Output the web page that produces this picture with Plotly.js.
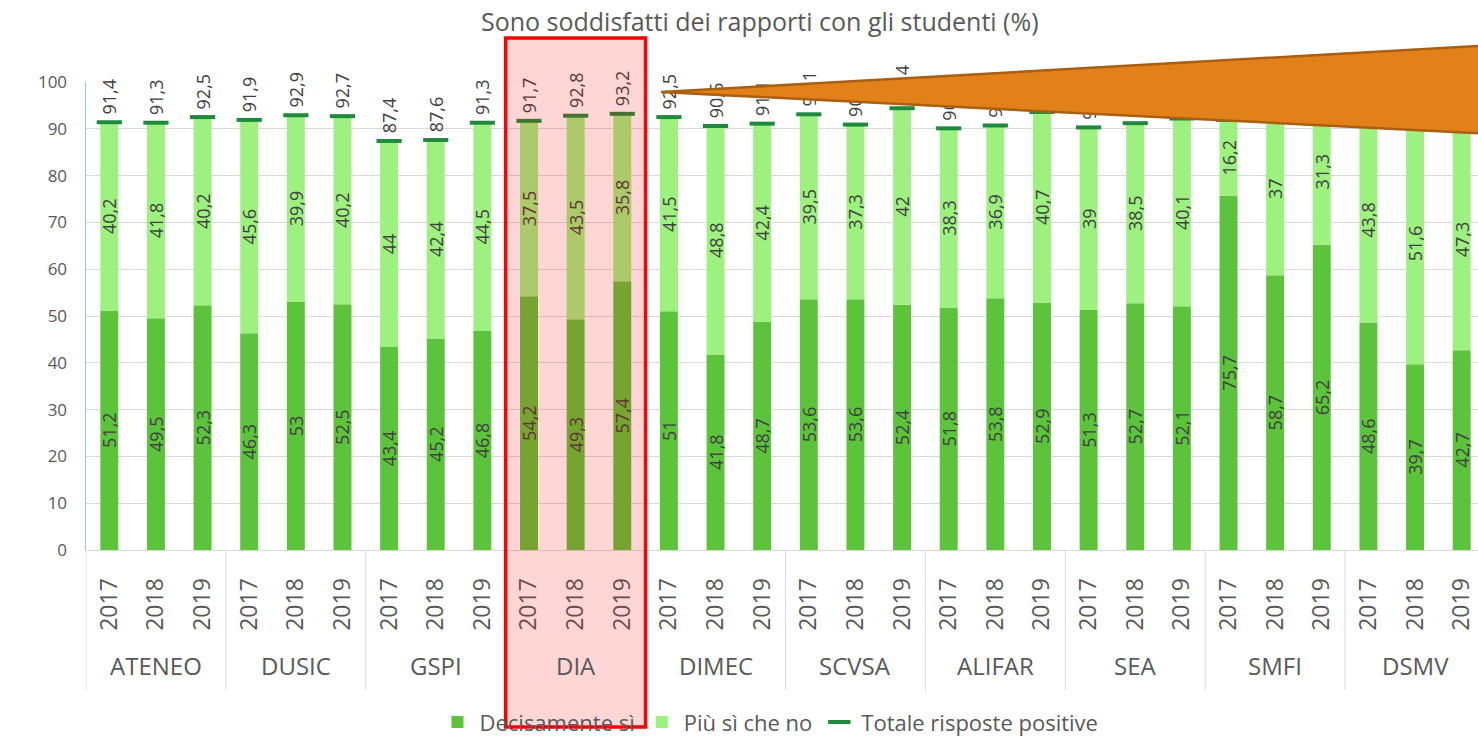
<!DOCTYPE html>
<html><head><meta charset="utf-8">
<script src="https://cdn.plot.ly/plotly-3.0.1.min.js"></script>
<style>html,body{margin:0;padding:0;background:#fff}#chart{width:1478px;height:739px}</style>
</head><body><div id="chart"></div>
<script>
// ---- data ----
const departments = ["ATENEO","DUSIC","GSPI","DIA","DIMEC","SCVSA","ALIFAR","SEA","SMFI","DSMV"];
const years = ["2017","2018","2019"];
const decisamente = [51.2,49.5,52.3, 46.3,53,52.5, 43.4,45.2,46.8, 54.2,49.3,57.4, 51,41.8,48.7, 53.6,53.6,52.4, 51.8,53.8,52.9, 51.3,52.7,52.1, 75.7,58.7,65.2, 48.6,39.7,42.7];
const piuSi = [40.2,41.8,40.2, 45.6,39.9,40.2, 44,42.4,44.5, 37.5,43.5,35.8, 41.5,48.8,42.4, 39.5,37.3,42, 38.3,36.9,40.7, 39,38.5,40.1, 16.2,37,31.3, 43.8,51.6,47.3];
const totale = [91.4,91.3,92.5, 91.9,92.9,92.7, 87.4,87.6,91.3, 91.7,92.8,93.2, 92.5,90.6,91.1, 93.1,90.9,94.4, 90.1,90.7,93.6, 90.3,91.2,92.2, 91.9,95.7,96.5, 92.4,91.3,90.0];
const seriesNames = ["Decisamente sì","Più sì che no","Totale risposte positive"];
const highlighted = "DIA";
const chartTitle = "Sono soddisfatti dei rapporti con gli studenti (%)";

// ---- styling ----
const FONT = "Open Sans, sans-serif";
const GREY = "#595959";
const LABEL = "#404040";
const C_DEC = "#5CC43B";
const C_PIU = "#9DF17F";
const C_TOT = "#1F8A3C";

const fmt = v => String(v).replace('.', ',');
const nYears = years.length;
const xIdx = decisamente.map((_, i) => i);
const yearText = xIdx.map(i => years[i % nYears]);

const traces = [
  {type:'bar', name:seriesNames[0], x:xIdx, y:decisamente,
   marker:{color:C_DEC}, text:decisamente.map(fmt), textposition:'inside',
   insidetextanchor:'middle', textangle:-90, constraintext:'none',
   textfont:{family:FONT, size:18, color:LABEL}, hoverinfo:'y+name'},
  {type:'bar', name:seriesNames[1], x:xIdx, y:piuSi, base:decisamente,
   marker:{color:C_PIU}, text:piuSi.map(fmt), textposition:'inside',
   insidetextanchor:'middle', textangle:-90, constraintext:'none',
   textfont:{family:FONT, size:18, color:LABEL}, hoverinfo:'y+name'},
  {type:'bar', name:'labels', x:xIdx, y:totale, showlegend:false, hoverinfo:'skip',
   marker:{color:'rgba(0,0,0,0)'}, text:totale.map(v => '\u00A0' + fmt(v)),
   textposition:'outside', textangle:-90, constraintext:'none', cliponaxis:false,
   textfont:{family:FONT, size:18, color:LABEL}},
  {type:'scatter', mode:'markers', name:seriesNames[2], x:xIdx, y:totale,
   marker:{symbol:'line-ew', size:18, color:C_TOT, line:{width:4, color:C_TOT}},
   hoverinfo:'y+name'}
];

const shapes = [];
const annotations = [];
departments.forEach((d, g) => {
  annotations.push({xref:'x', yref:'paper', x:g*nYears + (nYears-1)/2, y:-0.247,
    text:d, showarrow:false, yanchor:'middle', font:{family:FONT, size:24, color:GREY}});
});
for (let g = 0; g <= departments.length; g++) {
  shapes.push({type:'line', xref:'x', yref:'paper', x0:g*nYears-0.5, x1:g*nYears-0.5,
    y0:0, y1:-0.30, line:{color:'#D9D9D9', width:1}});
}
const hg = departments.indexOf(highlighted);
shapes.push({type:'rect', xref:'x', yref:'paper', layer:'above',
  x0:hg*nYears-0.5, x1:(hg+1)*nYears-0.5, y0:-0.378, y1:1.094,
  fillcolor:'rgba(255,0,0,0.16)', line:{color:'#FF0000', width:3.5}});
shapes.push({type:'path', xref:'paper', yref:'paper', layer:'above',
  path:'M 0.4131 0.9786 L 1.03 1.082 L 1.03 0.886 Z',
  fillcolor:'#E2801A', line:{color:'#A85F12', width:2.5}});

const layout = {
  width:1478, height:739,
  margin:{l:86, r:0, t:82, b:189, autoexpand:false},
  paper_bgcolor:'#fff', plot_bgcolor:'#fff',
  barmode:'overlay', bargap:0.615,
  font:{family:FONT, color:GREY},
  title:{text:chartTitle, x:0.484, xref:'paper', xanchor:'center', y:0.97, yanchor:'middle',
    font:{family:FONT, size:25, color:GREY}},
  xaxis:{range:[-0.5, 29.35], tickvals:xIdx, ticktext:yearText, tickangle:-90,
    tickfont:{family:FONT, size:23, color:GREY}, ticks:'outside', ticklen:18,
    tickcolor:'rgba(0,0,0,0)', showgrid:false, zeroline:false, showline:true,
    linecolor:'#D9D9D9', linewidth:1, fixedrange:true, ticklabeloverflow:'allow'},
  yaxis:{range:[0,100], dtick:10, gridcolor:'#D9D9D9', gridwidth:1, zeroline:false,
    showline:true, linecolor:'#9DC3E6', linewidth:1.5, ticks:'outside', ticklen:14,
    tickcolor:'rgba(0,0,0,0)', tickfont:{family:FONT, size:17, color:GREY}, fixedrange:true},
  legend:{orientation:'h', x:0.491, xanchor:'center', y:-0.368, yanchor:'middle',
    bgcolor:'rgba(0,0,0,0)', font:{family:FONT, size:22, color:GREY}, traceorder:'normal',
    itemwidth:34},
  shapes:shapes, annotations:annotations, showlegend:true
};

Plotly.newPlot('chart', traces, layout, {displayModeBar:false, staticPlot:true});
</script>
</body></html>
